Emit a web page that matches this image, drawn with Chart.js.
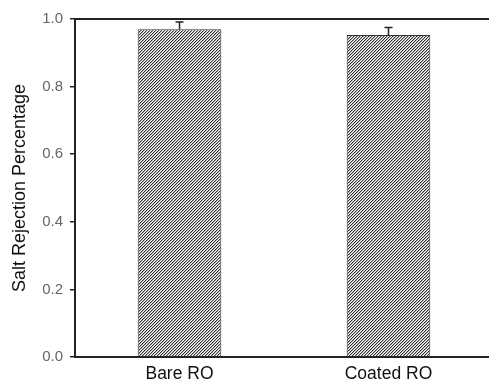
<!DOCTYPE html>
<html>
<head>
<meta charset="utf-8">
<script src="https://cdn.jsdelivr.net/npm/chart.js@4.4.0/dist/chart.umd.min.js"></script>
<style>
  html, body { margin: 0; padding: 0; background: #fff; overflow: hidden; }
  #wrap { width: 489px; height: 381px; overflow: hidden; }
</style>
</head>
<body>
<div id="wrap"><canvas id="myChart" width="493" height="381"></canvas></div>
<script>
// DATA
const categories = ['Bare RO', 'Coated RO'];
const rejection = [0.970, 0.953];
const rejectionErr = [0.021, 0.022];
const yTicks = [0, 0.2, 0.4, 0.6, 0.8, 1.0];

// hatch pattern for the bars (fine diagonal lines)
function makeHatch() {
  const c = document.createElement('canvas');
  c.width = 3;
  c.height = 3;
  const g = c.getContext('2d');
  g.fillStyle = '#fff';
  g.fillRect(0, 0, 3, 3);
  for (let i = 0; i < 3; i++) {
    g.fillStyle = '#333';
    g.fillRect(i, 2 - i, 1, 1);
    g.fillStyle = '#b0b0b0';
    g.fillRect(i, (3 - i) % 3, 1, 1);
  }
  return g.createPattern(c, 'repeat');
}

// error bars (upper half only, like the original)
const errorBars = {
  id: 'errorBars',
  afterDatasetsDraw(chart) {
    const ctx = chart.ctx;
    const meta = chart.getDatasetMeta(0);
    const y = chart.scales.y;
    ctx.save();
    ctx.strokeStyle = '#222';
    ctx.lineWidth = 1.5;
    meta.data.forEach((bar, i) => {
      const top = y.getPixelForValue(rejection[i] + rejectionErr[i]);
      ctx.beginPath();
      ctx.moveTo(bar.x, bar.y);
      ctx.lineTo(bar.x, top);
      ctx.moveTo(bar.x - 4, top);
      ctx.lineTo(bar.x + 4, top);
      ctx.stroke();
    });
    ctx.restore();
  }
};

const data = {
  labels: categories,
  datasets: [{
    label: 'Salt Rejection',
    data: rejection,
    backgroundColor: makeHatch(),
    borderColor: '#333',
    borderWidth: 1,
    categoryPercentage: 1.0,
    barPercentage: 0.40,
  }]
};

const config = {
  type: 'bar',
  data: data,
  options: {
    responsive: false,
    animation: false,
    layout: { padding: { top: 19, right: 0, left: 0, bottom: 0 } },
    plugins: {
      legend: { display: false },
      tooltip: { enabled: false }
    },
    scales: {
      x: {
        position: 'bottom',
        grid: { display: false, drawTicks: false },
        border: { display: true, color: '#222', width: 2 },
        ticks: {
          color: '#111',
          padding: 7,
          font: { family: 'Liberation Sans, Arial', size: 17.5 }
        },
        afterFit: (s) => { s.height = 24; }
      },
      xTop: {
        position: 'top',
        type: 'category',
        labels: categories,
        grid: { display: false, drawTicks: false },
        border: { display: true, color: '#222', width: 2 },
        ticks: { display: false },
        afterFit: (s) => { s.height = 0; }
      },
      y: {
        min: 0,
        max: 1.0,
        afterBuildTicks: (s) => { s.ticks = yTicks.map(v => ({ value: v })); },
        grid: { drawOnChartArea: false, tickLength: 5, color: '#222', lineWidth: 1.5 },
        border: { display: true, color: '#222', width: 2 },
        ticks: {
          color: '#666',
          padding: 7,
          font: { family: 'Liberation Sans, Arial', size: 15 },
          callback: (v) => Number(v).toFixed(1)
        },
        title: {
          display: true,
          text: 'Salt Rejection Percentage',
          color: '#111',
          padding: { top: 9, bottom: 0 },
          font: { family: 'Liberation Sans, Arial', size: 18 }
        },
        afterFit: (s) => { s.width = 75; }
      }
    }
  },
  plugins: [errorBars]
};

const myChart = new Chart(document.getElementById('myChart'), config);
</script>
</body>
</html>
